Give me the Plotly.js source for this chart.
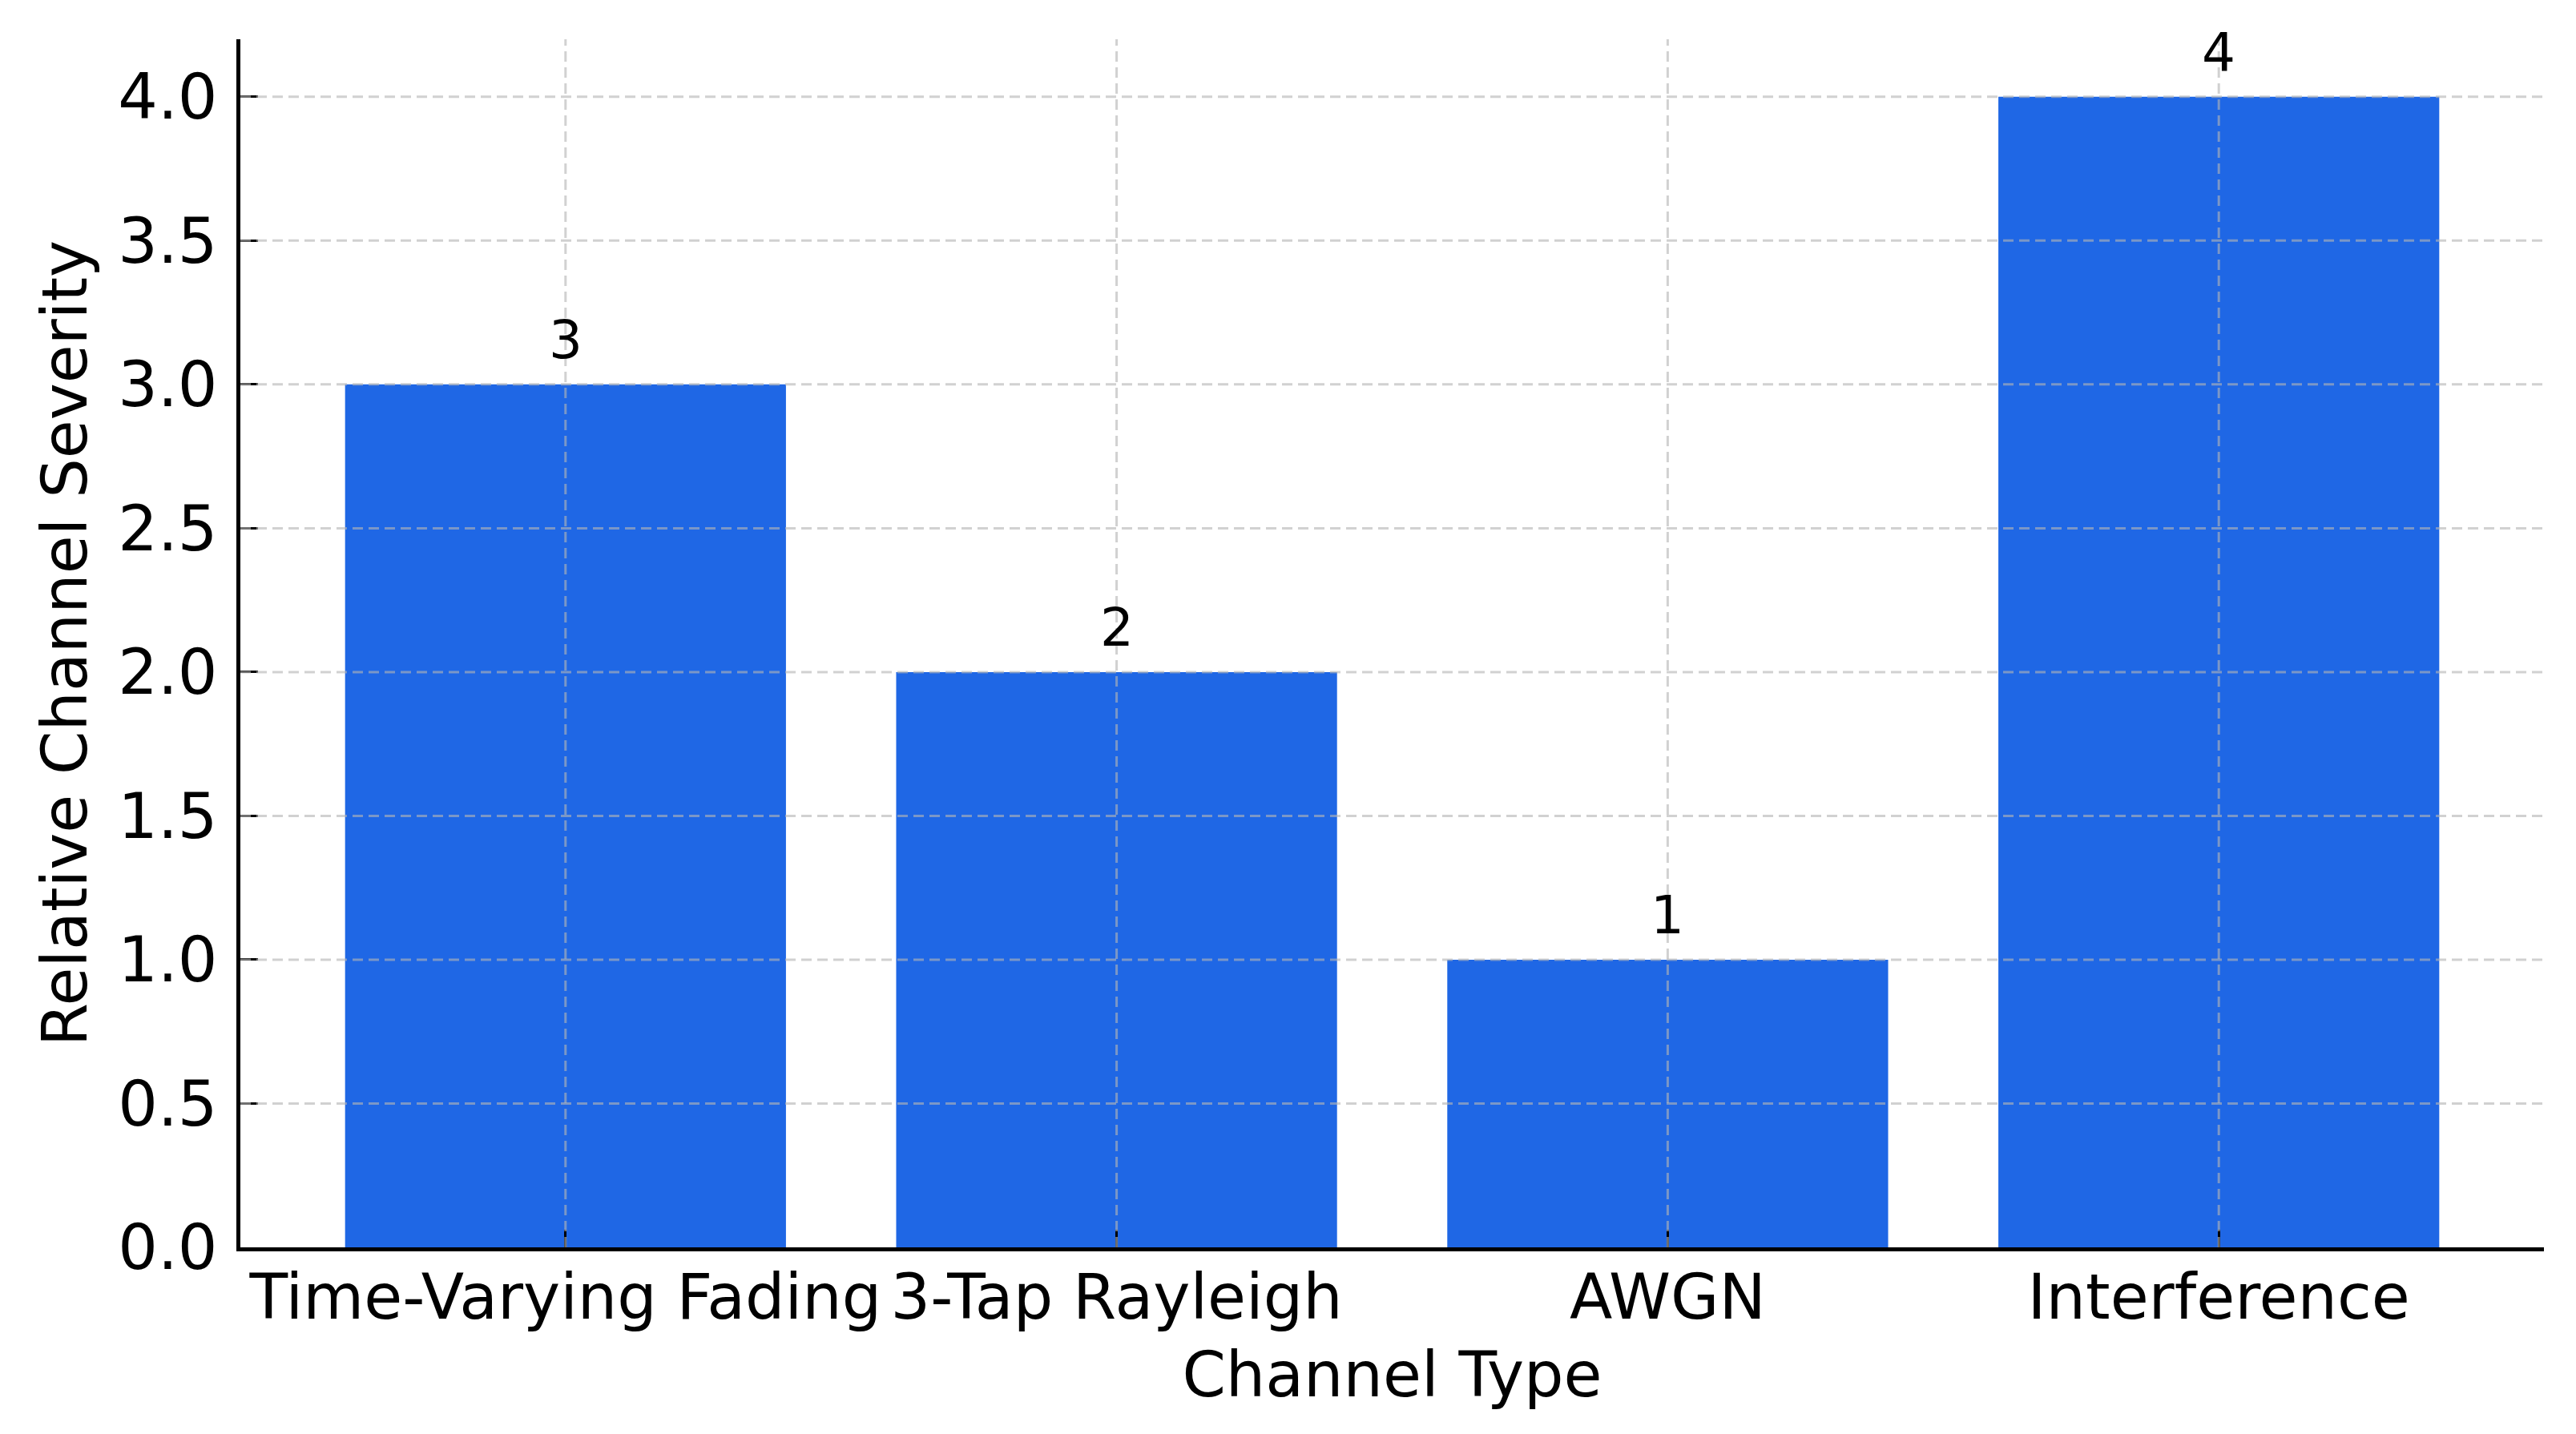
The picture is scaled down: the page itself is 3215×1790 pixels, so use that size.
<!DOCTYPE html>
<html>
<head>
<meta charset="utf-8">
<script src="https://cdn.plot.ly/plotly-3.0.1.min.js"></script>
<style>
  html, body { margin: 0; padding: 0; background: #ffffff; }
  #chart { width: 3215px; height: 1790px; }
</style>
</head>
<body>
<div id="chart"></div>
<script>
// ---- Data ----
const categories = ["Time-Varying Fading", "3-Tap Rayleigh", "AWGN", "Interference"];
const severity = [3, 2, 1, 4];
const yTickValues = [0, 0.5, 1.0, 1.5, 2.0, 2.5, 3.0, 3.5, 4.0];

// ---- Style ----
const FONT = "DejaVu Sans, Liberation Sans, sans-serif";
const BAR_COLOR = "#1f67e5";
const GRID_COLOR = "rgba(180,180,180,0.62)";
const GRID_DASH = "13px,7px";

const xIdx = categories.map((_, i) => i);

const trace = {
  type: "bar",
  x: xIdx,
  y: severity,
  width: 0.8,
  marker: { color: BAR_COLOR, line: { width: 0 } },
  hoverinfo: "skip"
};

// grid drawn above bars (as in the reference)
const shapes = [];
yTickValues.forEach(v => {
  if (v === 0) return;
  shapes.push({
    type: "line", layer: "above", xref: "paper", yref: "y",
    x0: 0, x1: 1, y0: v, y1: v,
    line: { color: GRID_COLOR, width: 3, dash: GRID_DASH }
  });
});
xIdx.forEach(i => {
  shapes.push({
    type: "line", layer: "above", xref: "x", yref: "paper",
    x0: i, x1: i, y0: 0, y1: 1,
    line: { color: GRID_COLOR, width: 3, dash: GRID_DASH }
  });
});

const annotations = severity.map((v, i) => ({
  x: i, y: v, xref: "x", yref: "y",
  text: String(v),
  showarrow: false,
  xanchor: "center", yanchor: "bottom",
  yshift: 15,
  font: { family: FONT, size: 66, color: "#000000" }
}));

const layout = {
  width: 3215,
  height: 1790,
  paper_bgcolor: "#ffffff",
  plot_bgcolor: "#ffffff",
  margin: { l: 300, r: 40, t: 49, b: 233, pad: 0 },
  showlegend: false,
  font: { family: FONT, color: "#000000" },
  xaxis: {
    range: [-0.59, 3.59],
    tickmode: "array",
    tickvals: xIdx,
    ticktext: categories,
    tickfont: { family: FONT, size: 78, color: "#000000" },
    ticks: "inside",
    ticklen: 22,
    tickwidth: 3,
    tickcolor: "#000000",
    showline: true,
    linecolor: "#000000",
    linewidth: 5,
    showgrid: false,
    zeroline: false,
    automargin: false,
    ticklabelstandoff: -10,
    title: { text: "Channel Type", font: { family: FONT, size: 78, color: "#000000" }, standoff: 27 }
  },
  yaxis: {
    range: [0, 4.2],
    tickmode: "array",
    tickvals: yTickValues,
    ticktext: yTickValues.map(v => v.toFixed(1)),
    tickfont: { family: FONT, size: 78, color: "#000000" },
    ticks: "inside",
    ticklen: 22,
    tickwidth: 3,
    tickcolor: "#000000",
    showline: true,
    linecolor: "#000000",
    linewidth: 5,
    showgrid: false,
    zeroline: false,
    automargin: false,
    ticklabelstandoff: 8,
    title: { text: "Relative Channel Severity", font: { family: FONT, size: 78, color: "#000000" }, standoff: 15 }
  },
  shapes: shapes,
  annotations: annotations,
  bargap: 0.2
};

Plotly.newPlot("chart", [trace], layout, { displayModeBar: false, staticPlot: true });
</script>
</body>
</html>
